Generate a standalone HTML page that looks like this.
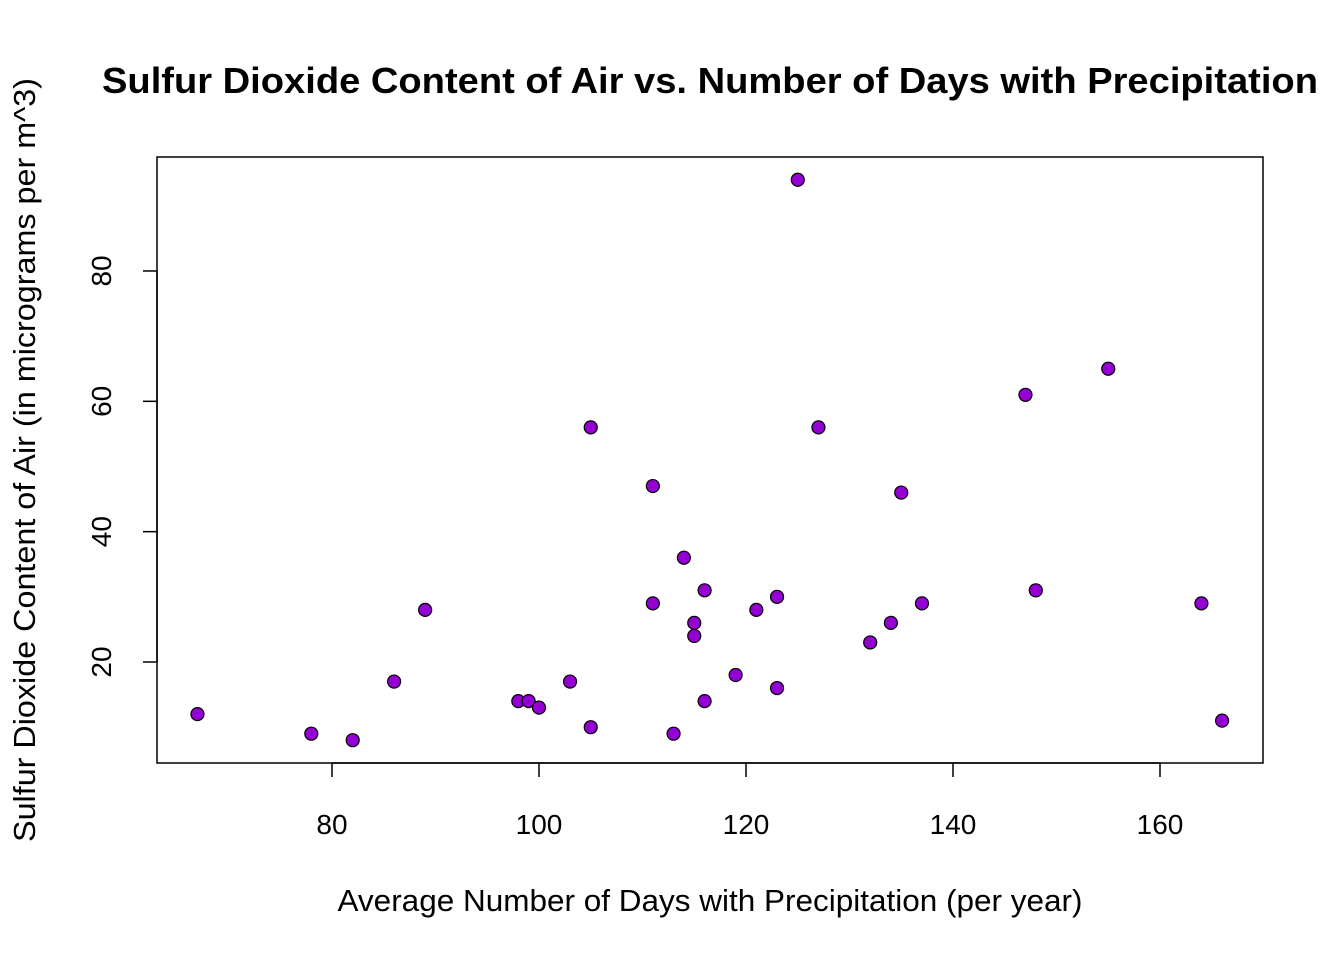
<!DOCTYPE html>
<html><head><meta charset="utf-8"><style>
html,body{margin:0;padding:0;background:#fff;}
svg{display:block;font-family:"Liberation Sans",Arial,sans-serif;}
</style></head><body>
<svg id="chart" width="1344" height="960" viewBox="0 0 1344 960">
<text x="710" y="93" text-anchor="middle" font-size="36" font-weight="bold" textLength="1216" lengthAdjust="spacingAndGlyphs">Sulfur Dioxide Content of Air vs. Number of Days with Precipitation</text>
<rect x="157" y="157" width="1106" height="606" fill="none" stroke="#000" stroke-width="1.5"/>
<g id="xaxis"></g>
<g id="yaxis"></g>
<g id="points"></g>
<text x="710" y="911" text-anchor="middle" font-size="31" textLength="745" lengthAdjust="spacingAndGlyphs">Average Number of Days with Precipitation (per year)</text>
<text transform="translate(35,460) rotate(-90)" text-anchor="middle" font-size="31" textLength="764" lengthAdjust="spacingAndGlyphs">Sulfur Dioxide Content of Air (in micrograms per m^3)</text>
</svg>
<script>
const precipDays=[67,78,82,86,89,98,99,100,103,105,105,111,111,113,114,115,115,116,116,119,121,123,123,125,127,132,134,135,137,147,148,155,164,166];
const so2=[12,9,8,17,28,14,14,13,17,10,56,47,29,9,36,26,24,31,14,18,28,30,16,94,56,23,26,46,29,61,31,65,29,11];
const xTicks=[80,100,120,140,160];
const yTicks=[20,40,60,80];
const NS="http://www.w3.org/2000/svg";
function xs(v){return 332+(v-80)*10.35;}
function ys(v){return 662-(v-20)*6.517;}
const xa=document.getElementById('xaxis'),ya=document.getElementById('yaxis'),pg=document.getElementById('points');
function mk(t,a,p){const e=document.createElementNS(NS,t);for(const k in a)e.setAttribute(k,a[k]);p.appendChild(e);return e;}
mk('line',{x1:xs(80),x2:xs(160),y1:763,y2:763,stroke:'#000','stroke-width':1.5},xa);
xTicks.forEach(v=>{
 const l=mk('line',{x1:xs(v),x2:xs(v),y1:763,y2:777,stroke:'#000','stroke-width':1.5},xa);
 
 
 const t=mk('text',{x:xs(v),y:834,'text-anchor':'middle','font-size':28},xa);t.textContent=v;
 
 
});
mk('line',{x1:157,x2:157,y1:ys(20),y2:ys(80),stroke:'#000','stroke-width':1.5},ya);
yTicks.forEach(v=>{
 const l=mk('line',{x1:143,x2:157,y1:ys(v),y2:ys(v),stroke:'#000','stroke-width':1.5},ya);
 
 
 const t=mk('text',{transform:`translate(111,${ys(v)}) rotate(-90)`,'text-anchor':'middle','font-size':28},ya);t.textContent=v;
 
 
});
precipDays.forEach((d,i)=>{
 const c=mk('circle',{cx:xs(d),cy:ys(so2[i]),r:6.5,fill:'#9400D3',stroke:'#000','stroke-width':1.2},pg);
 
 
});
</script>
</body></html>
